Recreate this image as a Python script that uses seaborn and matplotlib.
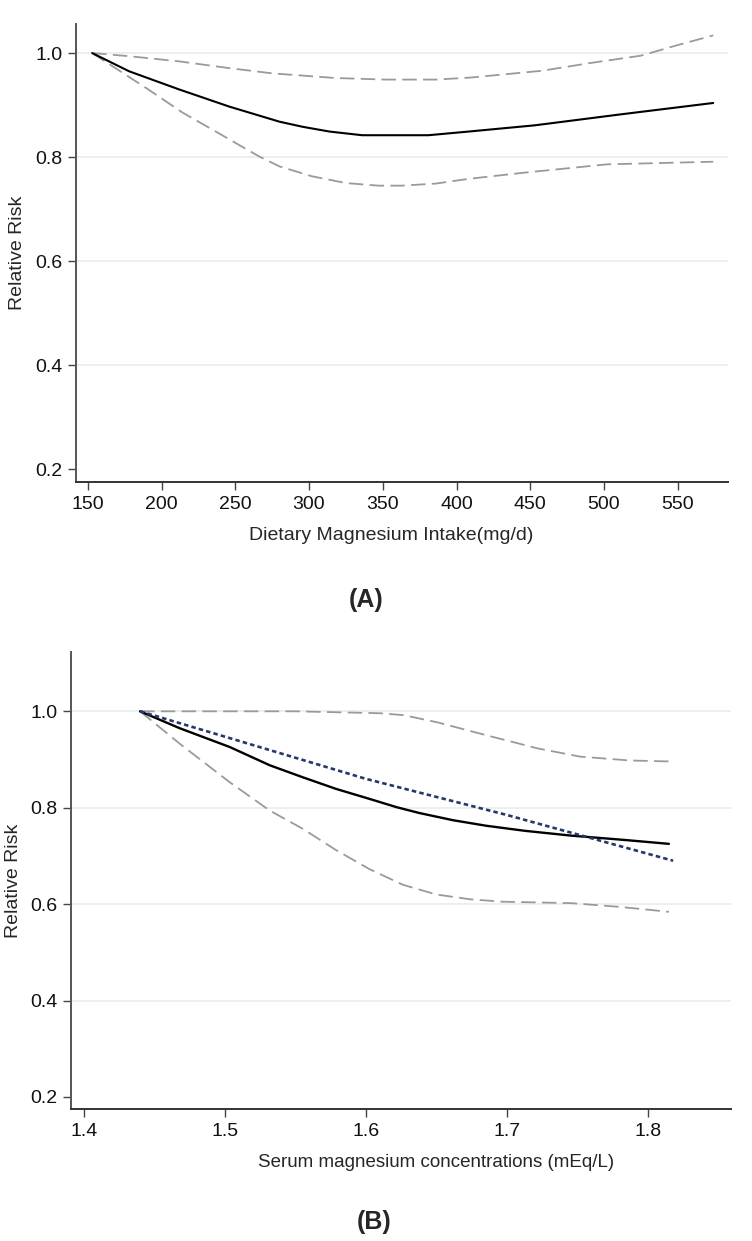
import seaborn as sns
import matplotlib.pyplot as plt

# panel A: dietary magnesium intake (mg/d)
intake_mid_x = [153, 178, 212, 246, 280, 296, 314, 336, 381, 408, 453, 511, 574]
intake_mid_rr = [1.0, 0.965, 0.930, 0.897, 0.868, 0.858, 0.849, 0.842, 0.842, 0.849, 0.861, 0.882, 0.904]
intake_hi_x = [153, 178, 212, 246, 275, 318, 352, 386, 410, 458, 491, 525, 547, 574]
intake_hi_rr = [1.0, 0.994, 0.984, 0.971, 0.961, 0.952, 0.949, 0.949, 0.953, 0.966, 0.981, 0.995, 1.013, 1.034]
intake_lo_x = [153, 190, 214, 235, 257, 267, 280, 302, 325, 347, 363, 386, 408, 446, 502, 574]
intake_lo_rr = [1.0, 0.932, 0.886, 0.852, 0.816, 0.800, 0.782, 0.763, 0.750, 0.745, 0.745, 0.749, 0.758, 0.770, 0.786, 0.791]

# panel B: serum magnesium (mEq/L)
serum_mid_x = [1.44, 1.468, 1.5035, 1.532, 1.5555, 1.579, 1.603, 1.622, 1.638, 1.662,
               1.6856, 1.713, 1.746, 1.784, 1.815]
serum_mid_rr = [1.0, 0.965, 0.926, 0.888, 0.863, 0.839, 0.818, 0.801, 0.789, 0.774,
                0.7625, 0.752, 0.742, 0.733, 0.725]
serum_hi_x = [1.44, 1.55, 1.61, 1.627, 1.651, 1.686, 1.722, 1.752, 1.787, 1.815]
serum_hi_rr = [1.0, 1.0, 0.996, 0.992, 0.977, 0.950, 0.923, 0.906, 0.898, 0.896]
serum_lo_x = [1.44, 1.468, 1.5035, 1.532, 1.5555, 1.579, 1.603, 1.6265, 1.650, 1.674,
              1.697, 1.746, 1.781, 1.815]
serum_lo_rr = [1.0, 0.933, 0.853, 0.794, 0.756, 0.712, 0.672, 0.640, 0.620, 0.610,
               0.605, 0.602, 0.594, 0.584]
serum_lin_x = [1.44, 1.60, 1.70, 1.818]
serum_lin_rr = [1.0, 0.860, 0.785, 0.690]

y_ticks = [0.2, 0.4, 0.6, 0.8, 1.0]
intake_ticks = [150, 200, 250, 300, 350, 400, 450, 500, 550]
serum_ticks = [1.4, 1.5, 1.6, 1.7, 1.8]

GREY = "#9a9a9a"
NAVY = "#24386a"
DASH = (0, (8, 3.5))

sns.set_style("ticks")
plt.rcParams["font.family"] = ["Liberation Sans", "DejaVu Sans"]

fig = plt.figure(figsize=(7.52, 12.41), dpi=100)
ax1 = fig.add_axes([0.101, 0.6116, 0.867, 0.3691])
ax2 = fig.add_axes([0.0944, 0.1064, 0.8776, 0.3682])


def style_axes(ax, xticks, xlim, ylim):
    ax.set_xlim(*xlim)
    ax.set_ylim(*ylim)
    ax.set_xticks(xticks)
    ax.set_yticks(y_ticks)
    ax.set_yticklabels([f"{t:.1f}" for t in y_ticks])
    for sp in ["top", "right"]:
        ax.spines[sp].set_visible(False)
    ax.spines["left"].set_color("#555555")
    ax.spines["bottom"].set_color("#333333")
    for sp in ["left", "bottom"]:
        ax.spines[sp].set_linewidth(1.4)
    ax.tick_params(axis="both", direction="out", length=6, width=1.0,
                   color="#444444", labelsize=14, labelcolor="#111111")
    ax.tick_params(axis="x", pad=4)
    ax.yaxis.grid(True, color="#e6edf0", linewidth=1.2)
    ax.get_ygridlines()[0].set_visible(False)


# (A)
sns.lineplot(x=intake_hi_x, y=intake_hi_rr, ax=ax1, color=GREY, linewidth=1.3, linestyle=DASH)
sns.lineplot(x=intake_lo_x, y=intake_lo_rr, ax=ax1, color=GREY, linewidth=1.3, linestyle=DASH)
sns.lineplot(x=intake_mid_x, y=intake_mid_rr, ax=ax1, color="black", linewidth=1.5)
style_axes(ax1, intake_ticks, (142, 584), (0.175, 1.056))
ax1.set_xlabel("Dietary Magnesium Intake(mg/d)", fontsize=14)
ax1.set_ylabel("Relative Risk", fontsize=14)
ax1.xaxis.set_label_coords(0.483, -0.098)
ax1.yaxis.set_label_coords(-0.077, 0.5)

# (B)
sns.lineplot(x=serum_hi_x, y=serum_hi_rr, ax=ax2, color=GREY, linewidth=1.3, linestyle=DASH)
sns.lineplot(x=serum_lo_x, y=serum_lo_rr, ax=ax2, color=GREY, linewidth=1.3, linestyle=DASH)
sns.lineplot(x=serum_mid_x, y=serum_mid_rr, ax=ax2, color="black", linewidth=1.7)
sns.lineplot(x=serum_lin_x, y=serum_lin_rr, ax=ax2, color=NAVY, linewidth=1.9,
             linestyle=(0, (1.7, 1.2)))
style_axes(ax2, serum_ticks, (1.391, 1.859), (0.175, 1.123))
ax2.set_xlabel("Serum magnesium concentrations (mEq/L)", fontsize=13.5)
ax2.set_ylabel("Relative Risk", fontsize=14)
ax2.xaxis.set_label_coords(0.553, -0.098)
ax2.yaxis.set_label_coords(-0.074, 0.5)

fig.text(366 / 752, 1 - 600 / 1241, "(A)", ha="center", va="center",
         fontsize=18, fontweight="bold")
fig.text(374 / 752, 1 - 1222 / 1241, "(B)", ha="center", va="center",
         fontsize=18, fontweight="bold")

fig.savefig("out.png", dpi=100)
